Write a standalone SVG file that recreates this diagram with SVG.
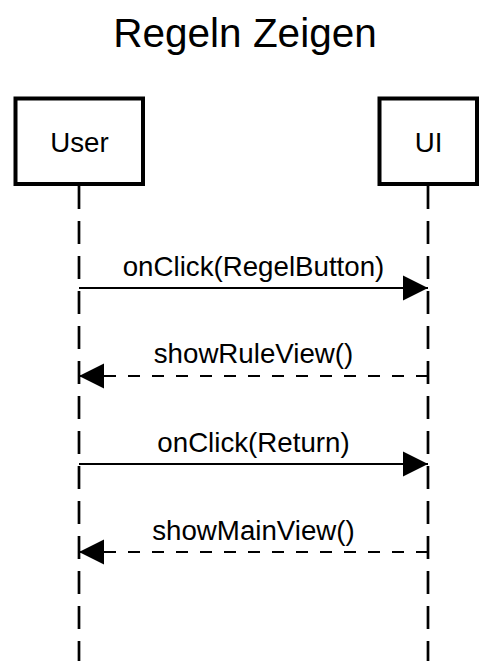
<svg xmlns="http://www.w3.org/2000/svg" width="491" height="661" viewBox="0 0 491 661">
<style>
text{font-family:"Liberation Sans",Arial,sans-serif;fill:#000;text-anchor:middle}
.title{font-size:40.5px}
.lbl{font-size:27.7px}
.box{fill:#fff;stroke:#000;stroke-width:4}
.life{stroke:#000;stroke-width:2.7;stroke-dasharray:23 12;fill:none}
.msg{stroke:#000;stroke-width:2;fill:none}
.ret{stroke:#000;stroke-width:2;fill:none;stroke-dasharray:12 12}
</style>
<defs>
<marker id="ah" markerUnits="userSpaceOnUse" markerWidth="26" markerHeight="26" viewBox="0 0 26 26" refX="25" refY="13" orient="auto">
<path d="M0,0.5 L25,13 L0,25.5 Z" fill="#000"/>
</marker>
</defs>
<rect width="491" height="661" fill="#fff"/>
<text class="title" x="245" y="47">Regeln Zeigen</text>
<g id="user">
<line class="life" x1="79" y1="186" x2="79" y2="661"/>
<rect class="box" x="15.5" y="98.5" width="127.5" height="85.5"/>
<text class="lbl" x="79.5" y="152">User</text>
</g>
<g id="ui">
<line class="life" x1="428" y1="186" x2="428" y2="661"/>
<rect class="box" x="379.5" y="98.5" width="97.5" height="85.5"/>
<text class="lbl" x="428.5" y="152">UI</text>
</g>
<g id="connectors">
<line class="msg" x1="79" y1="288" x2="428" y2="288" marker-end="url(#ah)"/>
<text class="lbl" x="253.5" y="276">onClick(RegelButton)</text>
<line class="ret" x1="428" y1="376" x2="79" y2="376" marker-end="url(#ah)"/>
<text class="lbl" x="253.5" y="363">showRuleView()</text>
<line class="msg" x1="79" y1="464" x2="428" y2="464" marker-end="url(#ah)"/>
<text class="lbl" x="253.5" y="452">onClick(Return)</text>
<line class="ret" x1="428" y1="552" x2="79" y2="552" marker-end="url(#ah)"/>
<text class="lbl" x="253.5" y="540">showMainView()</text>
</g>
</svg>
